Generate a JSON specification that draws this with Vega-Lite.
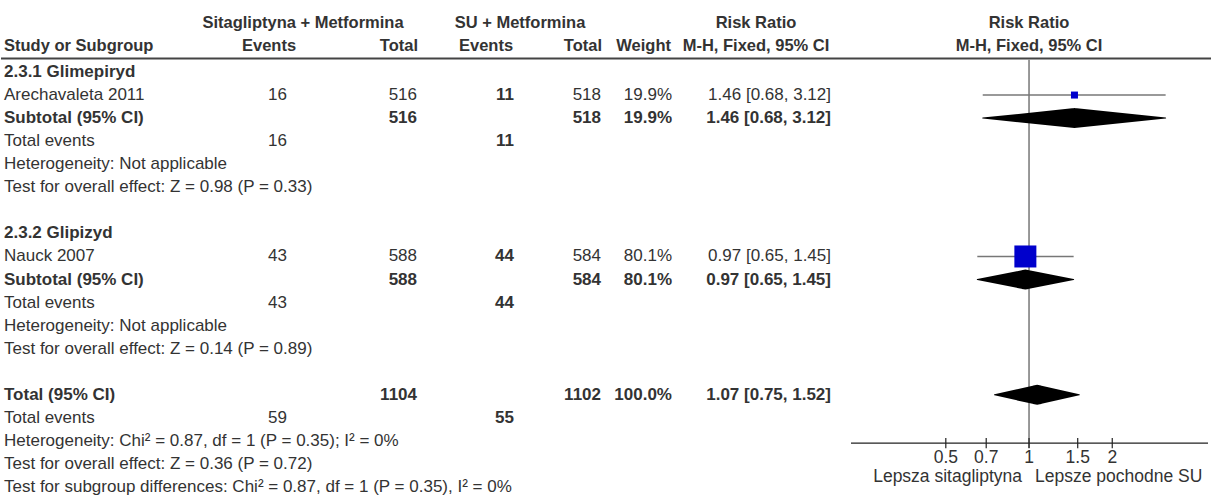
{
  "$schema": "https://vega.github.io/schema/vega-lite/v6.json",
  "width": 1211,
  "height": 502,
  "autosize": {"type": "fit", "contains": "padding"},
  "padding": 0,
  "background": "white",
  "config": {
    "view": {"stroke": null},
    "text": {"font": "Liberation Sans", "fontSize": 17, "fill": "#333333", "baseline": "middle"}
  },
  "datasets": {
    "table": [
      {"line": 2, "label": "2.3.1 Glimepiryd", "kind": "group"},
      {"line": 3, "label": "Arechavaleta 2011", "kind": "study", "e_ev": "16", "e_tot": "516", "c_ev": "11", "c_tot": "518", "w": "19.9%", "ci": "1.46 [0.68, 3.12]", "weight": 19.9, "rr": 1.46, "lo": 0.68, "hi": 3.12},
      {"line": 4, "label": "Subtotal (95% CI)", "kind": "subtotal", "e_tot": "516", "c_tot": "518", "w": "19.9%", "ci": "1.46 [0.68, 3.12]", "weight": 19.9, "rr": 1.46, "lo": 0.68, "hi": 3.12},
      {"line": 5, "label": "Total events", "kind": "events", "e_ev": "16", "c_ev": "11"},
      {"line": 6, "label": "Heterogeneity: Not applicable", "kind": "info"},
      {"line": 7, "label": "Test for overall effect: Z = 0.98 (P = 0.33)", "kind": "info"},
      {"line": 9, "label": "2.3.2 Glipizyd", "kind": "group"},
      {"line": 10, "label": "Nauck 2007", "kind": "study", "e_ev": "43", "e_tot": "588", "c_ev": "44", "c_tot": "584", "w": "80.1%", "ci": "0.97 [0.65, 1.45]", "weight": 80.1, "rr": 0.97, "lo": 0.65, "hi": 1.45},
      {"line": 11, "label": "Subtotal (95% CI)", "kind": "subtotal", "e_tot": "588", "c_tot": "584", "w": "80.1%", "ci": "0.97 [0.65, 1.45]", "weight": 80.1, "rr": 0.97, "lo": 0.65, "hi": 1.45},
      {"line": 12, "label": "Total events", "kind": "events", "e_ev": "43", "c_ev": "44"},
      {"line": 13, "label": "Heterogeneity: Not applicable", "kind": "info"},
      {"line": 14, "label": "Test for overall effect: Z = 0.14 (P = 0.89)", "kind": "info"},
      {"line": 16, "label": "Total (95% CI)", "kind": "total", "e_tot": "1104", "c_tot": "1102", "w": "100.0%", "ci": "1.07 [0.75, 1.52]", "weight": 100, "rr": 1.07, "lo": 0.75, "hi": 1.52},
      {"line": 17, "label": "Total events", "kind": "events", "e_ev": "59", "c_ev": "55"},
      {"line": 18, "label": "Heterogeneity: Chi² = 0.87, df = 1 (P = 0.35); I² = 0%", "kind": "info"},
      {"line": 19, "label": "Test for overall effect: Z = 0.36 (P = 0.72)", "kind": "info"},
      {"line": 20, "label": "Test for subgroup differences: Chi² = 0.87, df = 1 (P = 0.35), I² = 0%", "kind": "info"}
    ],
    "headers": [
      {"line": -0.13, "col": "exp", "text": "Sitagliptyna + Metformina"},
      {"line": -0.13, "col": "ctrl", "text": "SU + Metformina"},
      {"line": -0.13, "col": "rr", "text": "Risk Ratio"},
      {"line": -0.13, "col": "plot", "text": "Risk Ratio"},
      {"line": 0.86, "col": "study", "text": "Study or Subgroup"},
      {"line": 0.86, "col": "e_ev", "text": "Events"},
      {"line": 0.86, "col": "e_tot", "text": "Total"},
      {"line": 0.86, "col": "c_ev", "text": "Events"},
      {"line": 0.86, "col": "c_tot", "text": "Total"},
      {"line": 0.86, "col": "w", "text": "Weight"},
      {"line": 0.86, "col": "rr", "text": "M-H, Fixed, 95% CI"},
      {"line": 0.86, "col": "plot", "text": "M-H, Fixed, 95% CI"}
    ],
    "ticks": [
      {"v": 0.5, "lab": "0.5"},
      {"v": 0.7, "lab": "0.7"},
      {"v": 1, "lab": "1"},
      {"v": 1.5, "lab": "1.5"},
      {"v": 2, "lab": "2"}
    ],
    "favours": [
      {"side": "left", "text": "Lepsza sitagliptyna"},
      {"side": "right", "text": "Lepsze pochodne SU"}
    ],
    "one": [{"ref": 1}]
  },
  "resolve": {"scale": {"x": "independent"}, "axis": {"x": "independent"}},
  "layer": [
    {
      "data": {"name": "one"},
      "mark": {"type": "rule", "color": "#444444", "strokeWidth": 2},
      "encoding": {
        "x": {"datum": 0, "type": "quantitative", "scale": {"domain": [0, 1211], "range": [0, 1211], "nice": false, "zero": false}, "axis": null},
        "x2": {"datum": 1211},
        "y": {"datum": 1.42, "type": "quantitative", "axis": null, "scale": {"domain": [-1.122, 20.647], "reverse": true, "nice": false, "zero": false}}
      }
    },
    {
      "data": {"name": "headers"},
      "transform": [{"filter": "datum.col == 'study'"}],
      "mark": {"type": "text", "align": "left", "fontWeight": "bold", "fontSize": 16.5},
      "encoding": {
        "x": {"datum": 3, "type": "quantitative", "scale": {"domain": [0, 1211], "range": [0, 1211], "nice": false, "zero": false}, "axis": null},
        "y": {"field": "line", "type": "quantitative", "axis": null, "scale": {"domain": [-1.122, 20.647], "reverse": true, "nice": false, "zero": false}},
        "text": {"field": "text"}
      }
    },
    {
      "data": {"name": "headers"},
      "transform": [{"filter": "datum.col == 'exp'"}],
      "mark": {"type": "text", "align": "center", "fontWeight": "bold", "fontSize": 16.5},
      "encoding": {
        "x": {"datum": 302, "type": "quantitative", "scale": {"domain": [0, 1211], "range": [0, 1211], "nice": false, "zero": false}, "axis": null},
        "y": {"field": "line", "type": "quantitative", "axis": null, "scale": {"domain": [-1.122, 20.647], "reverse": true, "nice": false, "zero": false}},
        "text": {"field": "text"}
      }
    },
    {
      "data": {"name": "headers"},
      "transform": [{"filter": "datum.col == 'ctrl'"}],
      "mark": {"type": "text", "align": "center", "fontWeight": "bold", "fontSize": 16.5},
      "encoding": {
        "x": {"datum": 519, "type": "quantitative", "scale": {"domain": [0, 1211], "range": [0, 1211], "nice": false, "zero": false}, "axis": null},
        "y": {"field": "line", "type": "quantitative", "axis": null, "scale": {"domain": [-1.122, 20.647], "reverse": true, "nice": false, "zero": false}},
        "text": {"field": "text"}
      }
    },
    {
      "data": {"name": "headers"},
      "transform": [{"filter": "datum.col == 'e_ev'"}],
      "mark": {"type": "text", "align": "center", "fontWeight": "bold", "fontSize": 16.5},
      "encoding": {
        "x": {"datum": 268, "type": "quantitative", "scale": {"domain": [0, 1211], "range": [0, 1211], "nice": false, "zero": false}, "axis": null},
        "y": {"field": "line", "type": "quantitative", "axis": null, "scale": {"domain": [-1.122, 20.647], "reverse": true, "nice": false, "zero": false}},
        "text": {"field": "text"}
      }
    },
    {
      "data": {"name": "headers"},
      "transform": [{"filter": "datum.col == 'e_tot'"}],
      "mark": {"type": "text", "align": "right", "fontWeight": "bold", "fontSize": 16.5},
      "encoding": {
        "x": {"datum": 417, "type": "quantitative", "scale": {"domain": [0, 1211], "range": [0, 1211], "nice": false, "zero": false}, "axis": null},
        "y": {"field": "line", "type": "quantitative", "axis": null, "scale": {"domain": [-1.122, 20.647], "reverse": true, "nice": false, "zero": false}},
        "text": {"field": "text"}
      }
    },
    {
      "data": {"name": "headers"},
      "transform": [{"filter": "datum.col == 'c_ev'"}],
      "mark": {"type": "text", "align": "center", "fontWeight": "bold", "fontSize": 16.5},
      "encoding": {
        "x": {"datum": 485, "type": "quantitative", "scale": {"domain": [0, 1211], "range": [0, 1211], "nice": false, "zero": false}, "axis": null},
        "y": {"field": "line", "type": "quantitative", "axis": null, "scale": {"domain": [-1.122, 20.647], "reverse": true, "nice": false, "zero": false}},
        "text": {"field": "text"}
      }
    },
    {
      "data": {"name": "headers"},
      "transform": [{"filter": "datum.col == 'c_tot'"}],
      "mark": {"type": "text", "align": "right", "fontWeight": "bold", "fontSize": 16.5},
      "encoding": {
        "x": {"datum": 601, "type": "quantitative", "scale": {"domain": [0, 1211], "range": [0, 1211], "nice": false, "zero": false}, "axis": null},
        "y": {"field": "line", "type": "quantitative", "axis": null, "scale": {"domain": [-1.122, 20.647], "reverse": true, "nice": false, "zero": false}},
        "text": {"field": "text"}
      }
    },
    {
      "data": {"name": "headers"},
      "transform": [{"filter": "datum.col == 'w'"}],
      "mark": {"type": "text", "align": "right", "fontWeight": "bold", "fontSize": 16.5},
      "encoding": {
        "x": {"datum": 670, "type": "quantitative", "scale": {"domain": [0, 1211], "range": [0, 1211], "nice": false, "zero": false}, "axis": null},
        "y": {"field": "line", "type": "quantitative", "axis": null, "scale": {"domain": [-1.122, 20.647], "reverse": true, "nice": false, "zero": false}},
        "text": {"field": "text"}
      }
    },
    {
      "data": {"name": "headers"},
      "transform": [{"filter": "datum.col == 'rr'"}],
      "mark": {"type": "text", "align": "center", "fontWeight": "bold", "fontSize": 16.5},
      "encoding": {
        "x": {"datum": 755, "type": "quantitative", "scale": {"domain": [0, 1211], "range": [0, 1211], "nice": false, "zero": false}, "axis": null},
        "y": {"field": "line", "type": "quantitative", "axis": null, "scale": {"domain": [-1.122, 20.647], "reverse": true, "nice": false, "zero": false}},
        "text": {"field": "text"}
      }
    },
    {
      "data": {"name": "headers"},
      "transform": [{"filter": "datum.col == 'plot'"}],
      "mark": {"type": "text", "align": "center", "fontWeight": "bold", "fontSize": 16.5},
      "encoding": {
        "x": {"datum": 1028, "type": "quantitative", "scale": {"domain": [0, 1211], "range": [0, 1211], "nice": false, "zero": false}, "axis": null},
        "y": {"field": "line", "type": "quantitative", "axis": null, "scale": {"domain": [-1.122, 20.647], "reverse": true, "nice": false, "zero": false}},
        "text": {"field": "text"}
      }
    },
    {
      "data": {"name": "table"},
      "transform": [{"filter": "datum.kind == 'group' || datum.kind == 'subtotal' || datum.kind == 'total'"}],
      "mark": {"type": "text", "align": "left", "fontWeight": "bold"},
      "encoding": {
        "x": {"datum": 3, "type": "quantitative", "scale": {"domain": [0, 1211], "range": [0, 1211], "nice": false, "zero": false}, "axis": null},
        "y": {"field": "line", "type": "quantitative", "axis": null, "scale": {"domain": [-1.122, 20.647], "reverse": true, "nice": false, "zero": false}},
        "text": {"field": "label"}
      }
    },
    {
      "data": {"name": "table"},
      "transform": [{"filter": "datum.kind == 'study' || datum.kind == 'events' || datum.kind == 'info'"}],
      "mark": {"type": "text", "align": "left"},
      "encoding": {
        "x": {"datum": 3, "type": "quantitative", "scale": {"domain": [0, 1211], "range": [0, 1211], "nice": false, "zero": false}, "axis": null},
        "y": {"field": "line", "type": "quantitative", "axis": null, "scale": {"domain": [-1.122, 20.647], "reverse": true, "nice": false, "zero": false}},
        "text": {"field": "label"}
      }
    },
    {
      "data": {"name": "table"},
      "transform": [{"filter": "isValid(datum.e_ev)"}],
      "mark": {"type": "text", "align": "right"},
      "encoding": {
        "x": {"datum": 286, "type": "quantitative", "scale": {"domain": [0, 1211], "range": [0, 1211], "nice": false, "zero": false}, "axis": null},
        "y": {"field": "line", "type": "quantitative", "axis": null, "scale": {"domain": [-1.122, 20.647], "reverse": true, "nice": false, "zero": false}},
        "text": {"field": "e_ev"}
      }
    },
    {
      "data": {"name": "table"},
      "transform": [{"filter": "isValid(datum.c_ev)"}],
      "mark": {"type": "text", "align": "right", "fontWeight": "bold"},
      "encoding": {
        "x": {"datum": 513, "type": "quantitative", "scale": {"domain": [0, 1211], "range": [0, 1211], "nice": false, "zero": false}, "axis": null},
        "y": {"field": "line", "type": "quantitative", "axis": null, "scale": {"domain": [-1.122, 20.647], "reverse": true, "nice": false, "zero": false}},
        "text": {"field": "c_ev"}
      }
    },
    {
      "data": {"name": "table"},
      "transform": [{"filter": "datum.kind == 'study'"}],
      "mark": {"type": "text", "align": "right"},
      "encoding": {
        "x": {"datum": 416, "type": "quantitative", "scale": {"domain": [0, 1211], "range": [0, 1211], "nice": false, "zero": false}, "axis": null},
        "y": {"field": "line", "type": "quantitative", "axis": null, "scale": {"domain": [-1.122, 20.647], "reverse": true, "nice": false, "zero": false}},
        "text": {"field": "e_tot"}
      }
    },
    {
      "data": {"name": "table"},
      "transform": [{"filter": "datum.kind == 'subtotal' || datum.kind == 'total'"}],
      "mark": {"type": "text", "align": "right", "fontWeight": "bold"},
      "encoding": {
        "x": {"datum": 416, "type": "quantitative", "scale": {"domain": [0, 1211], "range": [0, 1211], "nice": false, "zero": false}, "axis": null},
        "y": {"field": "line", "type": "quantitative", "axis": null, "scale": {"domain": [-1.122, 20.647], "reverse": true, "nice": false, "zero": false}},
        "text": {"field": "e_tot"}
      }
    },
    {
      "data": {"name": "table"},
      "transform": [{"filter": "datum.kind == 'study'"}],
      "mark": {"type": "text", "align": "right"},
      "encoding": {
        "x": {"datum": 600, "type": "quantitative", "scale": {"domain": [0, 1211], "range": [0, 1211], "nice": false, "zero": false}, "axis": null},
        "y": {"field": "line", "type": "quantitative", "axis": null, "scale": {"domain": [-1.122, 20.647], "reverse": true, "nice": false, "zero": false}},
        "text": {"field": "c_tot"}
      }
    },
    {
      "data": {"name": "table"},
      "transform": [{"filter": "datum.kind == 'subtotal' || datum.kind == 'total'"}],
      "mark": {"type": "text", "align": "right", "fontWeight": "bold"},
      "encoding": {
        "x": {"datum": 600, "type": "quantitative", "scale": {"domain": [0, 1211], "range": [0, 1211], "nice": false, "zero": false}, "axis": null},
        "y": {"field": "line", "type": "quantitative", "axis": null, "scale": {"domain": [-1.122, 20.647], "reverse": true, "nice": false, "zero": false}},
        "text": {"field": "c_tot"}
      }
    },
    {
      "data": {"name": "table"},
      "transform": [{"filter": "datum.kind == 'study'"}],
      "mark": {"type": "text", "align": "right"},
      "encoding": {
        "x": {"datum": 671, "type": "quantitative", "scale": {"domain": [0, 1211], "range": [0, 1211], "nice": false, "zero": false}, "axis": null},
        "y": {"field": "line", "type": "quantitative", "axis": null, "scale": {"domain": [-1.122, 20.647], "reverse": true, "nice": false, "zero": false}},
        "text": {"field": "w"}
      }
    },
    {
      "data": {"name": "table"},
      "transform": [{"filter": "datum.kind == 'subtotal' || datum.kind == 'total'"}],
      "mark": {"type": "text", "align": "right", "fontWeight": "bold"},
      "encoding": {
        "x": {"datum": 671, "type": "quantitative", "scale": {"domain": [0, 1211], "range": [0, 1211], "nice": false, "zero": false}, "axis": null},
        "y": {"field": "line", "type": "quantitative", "axis": null, "scale": {"domain": [-1.122, 20.647], "reverse": true, "nice": false, "zero": false}},
        "text": {"field": "w"}
      }
    },
    {
      "data": {"name": "table"},
      "transform": [{"filter": "datum.kind == 'study'"}],
      "mark": {"type": "text", "align": "right"},
      "encoding": {
        "x": {"datum": 830, "type": "quantitative", "scale": {"domain": [0, 1211], "range": [0, 1211], "nice": false, "zero": false}, "axis": null},
        "y": {"field": "line", "type": "quantitative", "axis": null, "scale": {"domain": [-1.122, 20.647], "reverse": true, "nice": false, "zero": false}},
        "text": {"field": "ci"}
      }
    },
    {
      "data": {"name": "table"},
      "transform": [{"filter": "datum.kind == 'subtotal' || datum.kind == 'total'"}],
      "mark": {"type": "text", "align": "right", "fontWeight": "bold"},
      "encoding": {
        "x": {"datum": 830, "type": "quantitative", "scale": {"domain": [0, 1211], "range": [0, 1211], "nice": false, "zero": false}, "axis": null},
        "y": {"field": "line", "type": "quantitative", "axis": null, "scale": {"domain": [-1.122, 20.647], "reverse": true, "nice": false, "zero": false}},
        "text": {"field": "ci"}
      }
    },
    {
      "data": {"name": "one"},
      "mark": {"type": "rule", "color": "#777777", "strokeWidth": 1.5},
      "encoding": {
        "x": {"field": "ref", "type": "quantitative", "scale": {"type": "log", "domain": [0.227, 4.44], "range": [850, 1207], "nice": false}, "axis": null},
        "y": {"datum": 1.47, "type": "quantitative", "axis": null, "scale": {"domain": [-1.122, 20.647], "reverse": true, "nice": false, "zero": false}},
        "y2": {"datum": 18.3}
      }
    },
    {
      "data": {"name": "one"},
      "mark": {"type": "rule", "color": "#222222", "strokeWidth": 1.2},
      "encoding": {
        "x": {"datum": 0.227, "type": "quantitative", "scale": {"type": "log", "domain": [0.227, 4.44], "range": [850, 1207], "nice": false}, "axis": null},
        "x2": {"datum": 4.44},
        "y": {"datum": 18.09, "type": "quantitative", "axis": null, "scale": {"domain": [-1.122, 20.647], "reverse": true, "nice": false, "zero": false}}
      }
    },
    {
      "data": {"name": "ticks"},
      "mark": {"type": "rule", "color": "#222222", "strokeWidth": 1.2},
      "encoding": {
        "x": {"field": "v", "type": "quantitative", "scale": {"type": "log", "domain": [0.227, 4.44], "range": [850, 1207], "nice": false}, "axis": null},
        "y": {"datum": 17.87, "type": "quantitative", "axis": null, "scale": {"domain": [-1.122, 20.647], "reverse": true, "nice": false, "zero": false}},
        "y2": {"datum": 18.32}
      }
    },
    {
      "data": {"name": "ticks"},
      "mark": {"type": "text", "align": "center", "fontSize": 17.5},
      "encoding": {
        "x": {"field": "v", "type": "quantitative", "scale": {"type": "log", "domain": [0.227, 4.44], "range": [850, 1207], "nice": false}, "axis": null},
        "y": {"datum": 18.74, "type": "quantitative", "axis": null, "scale": {"domain": [-1.122, 20.647], "reverse": true, "nice": false, "zero": false}},
        "text": {"field": "lab"}
      }
    },
    {
      "data": {"name": "favours"},
      "transform": [{"filter": "datum.side == 'left'"}],
      "mark": {"type": "text", "align": "right", "dx": -7, "fontSize": 17.5},
      "encoding": {
        "x": {"datum": 1, "type": "quantitative", "scale": {"type": "log", "domain": [0.227, 4.44], "range": [850, 1207], "nice": false}, "axis": null},
        "y": {"datum": 19.55, "type": "quantitative", "axis": null, "scale": {"domain": [-1.122, 20.647], "reverse": true, "nice": false, "zero": false}},
        "text": {"field": "text"}
      }
    },
    {
      "data": {"name": "favours"},
      "transform": [{"filter": "datum.side == 'right'"}],
      "mark": {"type": "text", "align": "left", "dx": 6, "fontSize": 17.5},
      "encoding": {
        "x": {"datum": 1, "type": "quantitative", "scale": {"type": "log", "domain": [0.227, 4.44], "range": [850, 1207], "nice": false}, "axis": null},
        "y": {"datum": 19.55, "type": "quantitative", "axis": null, "scale": {"domain": [-1.122, 20.647], "reverse": true, "nice": false, "zero": false}},
        "text": {"field": "text"}
      }
    },
    {
      "data": {"name": "table"},
      "transform": [{"filter": "datum.kind == 'study'"}],
      "mark": {"type": "rule", "color": "#777777", "strokeWidth": 1.5},
      "encoding": {
        "x": {"field": "lo", "type": "quantitative", "scale": {"type": "log", "domain": [0.227, 4.44], "range": [850, 1207], "nice": false}, "axis": null},
        "x2": {"field": "hi"},
        "y": {"field": "line", "type": "quantitative", "axis": null, "scale": {"domain": [-1.122, 20.647], "reverse": true, "nice": false, "zero": false}}
      }
    },
    {
      "data": {"name": "table"},
      "transform": [{"filter": "datum.kind == 'study'"}],
      "mark": {"type": "point", "shape": "square", "filled": true, "color": "#0000cc", "opacity": 1},
      "encoding": {
        "x": {"field": "rr", "type": "quantitative", "scale": {"type": "log", "domain": [0.227, 4.44], "range": [850, 1207], "nice": false}, "axis": null},
        "y": {"field": "line", "type": "quantitative", "axis": null, "scale": {"domain": [-1.122, 20.647], "reverse": true, "nice": false, "zero": false}},
        "size": {"field": "weight", "type": "quantitative", "scale": {"domain": [19.9, 80.1], "range": [49, 484]}, "legend": null}
      }
    },
    {
      "data": {"name": "table"},
      "transform": [
        {"filter": "datum.kind == 'subtotal' || datum.kind == 'total'"},
        {"fold": ["lo", "rr", "hi"], "as": ["key", "value"]}
      ],
      "mark": {"type": "trail", "color": "black"},
      "encoding": {
        "x": {"field": "value", "type": "quantitative", "scale": {"type": "log", "domain": [0.227, 4.44], "range": [850, 1207], "nice": false}, "axis": null},
        "y": {"field": "line", "type": "quantitative", "axis": null, "scale": {"domain": [-1.122, 20.647], "reverse": true, "nice": false, "zero": false}},
        "detail": {"field": "line", "type": "nominal"},
        "order": {"field": "value", "type": "quantitative"},
        "size": {"field": "key", "type": "ordinal", "scale": {"type": "ordinal", "domain": ["lo", "rr", "hi"], "range": [0, 20, 0]}, "legend": null}
      }
    }
  ]
}
